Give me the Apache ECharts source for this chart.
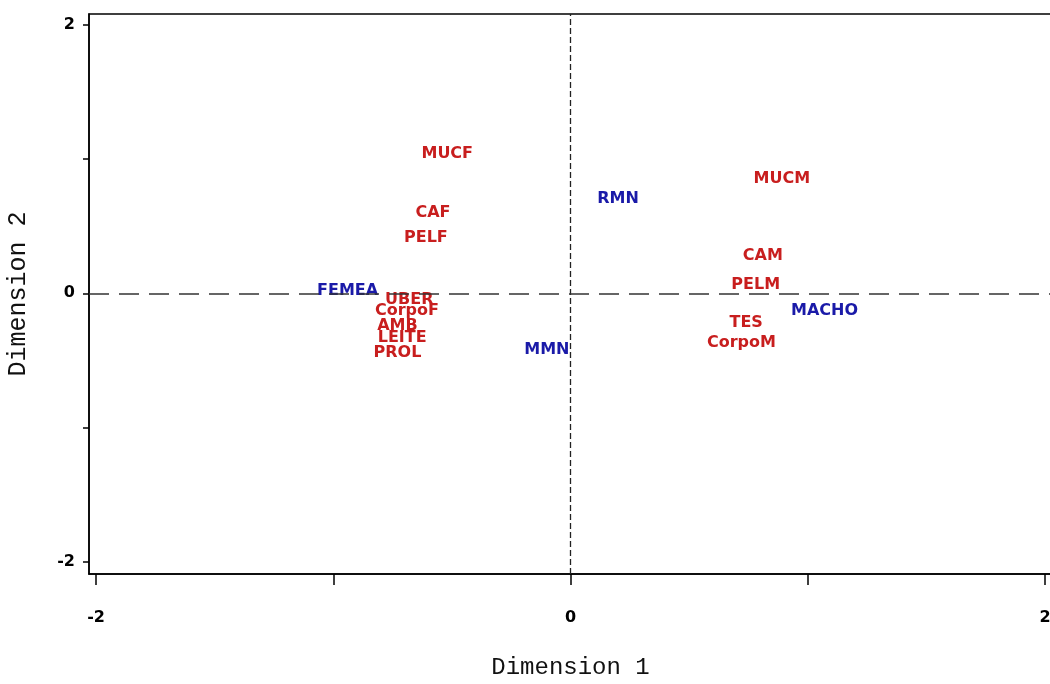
<!DOCTYPE html>
<html>
<head>
<meta charset="utf-8">
<script src="https://cdn.jsdelivr.net/npm/echarts@6/dist/echarts.min.js"></script>
<style>html,body{margin:0;padding:0;background:#fff;}#c{width:1050px;height:684px;}</style>
</head>
<body>
<div id="c"></div>
<script>
// Variable categories (red)
var varNames = ['MUCF', 'CAF', 'PELF', 'UBER', 'CorpoF', 'AMB', 'LEITE', 'PROL', 'MUCM', 'CAM', 'PELM', 'TES', 'CorpoM'];
var varX = [-0.52, -0.58, -0.61, -0.68, -0.69, -0.73, -0.71, -0.73, 0.89, 0.81, 0.78, 0.74, 0.72];
var varY = [1.04, 0.60, 0.41, -0.05, -0.13, -0.24, -0.33, -0.44, 0.85, 0.28, 0.06, -0.22, -0.37];
// Group categories (blue)
var grpNames = ['RMN', 'MMN', 'FEMEA', 'MACHO'];
var grpX = [0.20, -0.10, -0.94, 1.07];
var grpY = [0.70, -0.42, 0.02, -0.13];
// Axis ticks and labels
var tickValues = [-2, -1, 0, 1, 2];
var labelValues = [-2, 0, 2];

function pts(names, xs, ys) {
  return names.map(function (n, i) { return { name: n, value: [xs[i], ys[i]] }; });
}

var chart = echarts.init(document.getElementById('c'));
var labelFont = { fontFamily: 'DejaVu Sans', fontWeight: 'bold', fontSize: 16 };
chart.setOption({
  animation: false,
  grid: { left: 89, top: 14, right: -2, bottom: 110, show: true, borderColor: '#000', borderWidth: 1.5, outerBoundsMode: 'none', containLabel: false },
  xAxis: {
    type: 'value', min: -2.03, max: 2.029,
    name: 'Dimension 1', nameLocation: 'middle', nameGap: 82,
    nameTextStyle: { fontFamily: 'Liberation Mono', fontSize: 24, color: '#111' },
    axisLine: { show: true, onZero: false, lineStyle: { color: '#000', width: 1.5 } },
    axisTick: { show: true, customValues: tickValues, length: 11, lineStyle: { color: '#000', width: 1.5 } },
    axisLabel: { customValues: labelValues, margin: 36, color: '#000', fontFamily: 'DejaVu Sans', fontWeight: 'bold', fontSize: 16 },
    splitLine: { show: false }
  },
  yAxis: {
    type: 'value', min: -2.09, max: 2.08,
    name: 'Dimension 2', nameLocation: 'middle', nameGap: 58,
    nameTextStyle: { fontFamily: 'Liberation Mono', fontSize: 25, color: '#111' },
    axisLine: { show: true, onZero: false, lineStyle: { color: '#000', width: 1.5 } },
    axisTick: { show: true, customValues: tickValues, length: 6, lineStyle: { color: '#000', width: 1.5 } },
    axisLabel: { customValues: labelValues, margin: 14, color: '#000', fontFamily: 'DejaVu Sans', fontWeight: 'bold', fontSize: 16 },
    splitLine: { show: false }
  },
  series: [
    {
      type: 'scatter', name: 'vars', symbolSize: 0, silent: true,
      itemStyle: { opacity: 1 },
      data: pts(varNames, varX, varY),
      label: Object.assign({ show: true, position: 'inside', color: '#c81e1e', formatter: '{b}' }, labelFont),
      markLine: {
        silent: true, symbol: 'none', label: { show: false }, animation: false,
        data: [
          { xAxis: 0, lineStyle: { type: [6, 3], color: '#222', width: 1.3 } },
          { yAxis: 0, lineStyle: { type: [20, 10], color: '#333', width: 1.6 } }
        ]
      }
    },
    {
      type: 'scatter', name: 'groups', symbolSize: 0, silent: true,
      itemStyle: { opacity: 1 },
      data: pts(grpNames, grpX, grpY),
      label: Object.assign({ show: true, position: 'inside', color: '#1a1aa8', formatter: '{b}' }, labelFont)
    }
  ]
});
</script>
</body>
</html>
